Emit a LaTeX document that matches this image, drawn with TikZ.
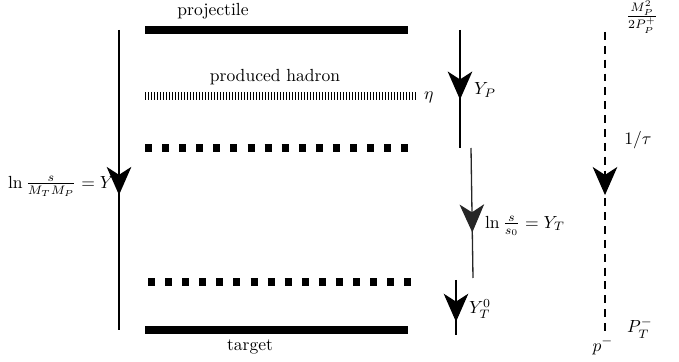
\documentclass[tikz,border=0pt]{standalone}
\usetikzlibrary{arrows.meta,decorations.markings}

\tikzset{
  midarrow/.style={postaction={decorate},
    decoration={markings,mark=at position #1 with {\arrow{Stealth[length=16pt,width=14pt,inset=4.5pt]}}}},
  solidbar/.style={line width=4pt},
  squarebar/.style={line width=4pt,dash pattern=on 4pt off 5.74pt},
  hatchbar/.style={line width=4.5pt,dash pattern=on 0.7pt off 1.01pt},
  rapline/.style={line width=1.1pt},
}

\begin{document}
\begin{tikzpicture}[x=0.57pt,y=-0.57pt]
  \useasboundingbox (0,0) rectangle (679,362);
  % layers
  \draw[solidbar] (145,30) -- (408,30);
  \node (proj) at (213,11) {projectile};
  \node (prod) at (275,77) {produced hadron};
  \draw[hatchbar] (145,96) -- (417,96);
  \node[anchor=west,inner sep=1pt] (eta) at (422,97) {$\eta$};
  \draw[squarebar] (145,148) -- (408,148);
  \draw[squarebar] (148,282) -- (411,282);
  \draw[solidbar] (145,330) -- (408,330);
  \node (targ) at (250,347) {target};
  % rapidity intervals
  \coordinate (ytop) at (119,30);
  \coordinate (ybot) at (119,330);
  \draw[rapline,midarrow=0.55] (ytop) -- (ybot);
  \node[anchor=east,inner sep=1pt] (ylab) at (116,186) {$\ln\frac{s}{M_TM_P}=Y$};
  \coordinate (yptop) at (460,30);
  \coordinate (ypbot) at (460,148);
  \draw[rapline,midarrow=0.59] (yptop) -- (ypbot);
  \node[anchor=west,inner sep=1pt] (yplab) at (472,90) {$Y_P$};
  \coordinate (yttop) at (471,148);
  \coordinate (ytbot) at (473,278);
  \draw[line width=0.75pt,black!85,midarrow=0.65] (yttop) -- (ytbot);
  \node[anchor=west,inner sep=1pt] (ytlab) at (483,226) {$\ln\frac{s}{s_0}=Y_T$};
  \coordinate (y0top) at (456,280);
  \coordinate (y0bot) at (456,335);
  \draw[line width=0.6pt,midarrow=0.76] (y0top) -- (y0bot);
  \node[anchor=west,inner sep=1pt] (y0lab) at (467,309) {$Y_T^0$};
  % light-cone time
  \coordinate (tautop) at (605,32);
  \coordinate (taubot) at (605,334);
  \draw[line width=0.6pt,dash pattern=on 4.5pt off 3.4pt,midarrow=0.54] (tautop) -- (taubot);
  \node (mp) at (642,17) {$\frac{M_P^2}{2P_P^+}$};
  \node (tau) at (638,140) {$1/\tau$};
  \node (pt) at (640,328) {$P_T^-$};
  \node (pm) at (603,346) {$p^-$};
\end{tikzpicture}
\end{document}
